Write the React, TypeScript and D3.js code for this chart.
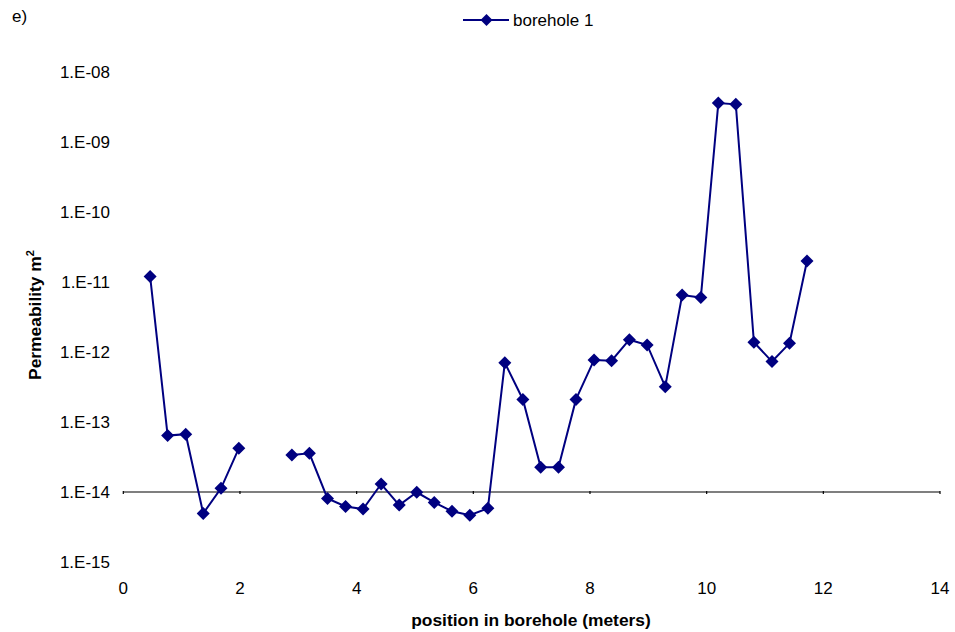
import React from "react";
import * as d3 from "d3";

const positions: number[] = [
  0.46, 0.76, 1.07, 1.37, 1.675, 1.98, 2.28, 2.58, 2.89, 3.19, 3.5, 3.81, 4.11, 4.42,
  4.73, 5.03, 5.33, 5.635, 5.94, 6.25, 6.54, 6.85, 7.155, 7.46, 7.76, 8.07, 8.37,
  8.675, 8.98, 9.29, 9.58, 9.9, 10.2, 10.5, 10.81, 11.12, 11.42, 11.72,
];
const permeability: (number | null)[] = [
  1.2e-11, 6.4e-14, 6.7e-14, 4.95e-15, 1.13e-14, 4.2e-14, null, null, 3.38e-14, 3.57e-14,
  8.1e-15, 6.2e-15, 5.7e-15, 1.3e-14, 6.5e-15, 9.9e-15, 7.1e-15, 5.3e-15, 4.65e-15,
  5.85e-15, 7.0e-13, 2.1e-13, 2.25e-14, 2.25e-14, 2.1e-13, 7.7e-13, 7.5e-13, 1.5e-12,
  1.26e-12, 3.2e-13, 6.5e-12, 6.0e-12, 3.6e-9, 3.45e-9, 1.38e-12, 7.3e-13, 1.33e-12, 2.0e-11,
];
const xTicks: number[] = [0, 2, 4, 6, 8, 10, 12, 14];
const yTicks: number[] = [1e-8, 1e-9, 1e-10, 1e-11, 1e-12, 1e-13, 1e-14, 1e-15];
const yTickLabels: string[] = ["1.E-08", "1.E-09", "1.E-10", "1.E-11", "1.E-12", "1.E-13", "1.E-14", "1.E-15"];
const seriesName = "borehole 1";

const W = 955;
const H = 632;
const NAVY = "#000080";
const FONT = "'Liberation Sans', Arial, sans-serif";

function diamond(cx: number, cy: number, r: number) {
  return `M${cx},${cy - r}L${cx + r},${cy}L${cx},${cy + r}L${cx - r},${cy}Z`;
}

export default function App() {
  const x = d3.scaleLinear().domain([0, 14]).range([123.3, 940]);
  const y = d3.scaleLog().domain([1e-15, 1e-8]).range([562, 72]);
  const data = positions.map((p, i) => ({ p, v: permeability[i] }));
  const line = d3
    .line<{ p: number; v: number | null }>()
    .defined((d) => d.v !== null)
    .x((d) => x(d.p))
    .y((d) => y(d.v as number));
  const axisY = y(1e-14);

  return (
    <svg
      width={W}
      height={H}
      style={{ position: "absolute", left: 0, top: 0, background: "#fff" }}
      fontFamily={FONT}
    >
      <rect width={W} height={H} fill="#fff" />
      <text x={12} y={22} fontSize={17} fill="#000">e)</text>

      {/* legend */}
      <line x1={463} x2={509} y1={20} y2={20} stroke={NAVY} strokeWidth={2} />
      <path d={diamond(486.5, 20, 6)} fill={NAVY} />
      <text x={513} y={26} fontSize={17} fill="#000">{seriesName}</text>

      {/* x axis line crossing at 1e-14 */}
      <line x1={x(0)} x2={x(14)} y1={axisY} y2={axisY} stroke="#000" strokeWidth={1.2} />
      {xTicks.map((t) => (
        <g key={t}>
          <line x1={x(t)} x2={x(t)} y1={axisY - 1} y2={axisY + 2} stroke="#000" strokeWidth={1.2} />
          <text x={x(t)} y={594} fontSize={17} textAnchor="middle" fill="#000">
            {t}
          </text>
        </g>
      ))}

      {yTicks.map((t, i) => (
        <text key={t} x={110} y={y(t) + 6} fontSize={17} textAnchor="end" fill="#000">
          {yTickLabels[i]}
        </text>
      ))}

      {/* axis titles */}
      <text x={531} y={626} fontSize={17.4} fontWeight="bold" textAnchor="middle" fill="#000">
        position in borehole (meters)
      </text>
      <text
        transform="translate(41,315) rotate(-90)"
        fontSize={17.4}
        fontWeight="bold"
        textAnchor="middle"
        fill="#000"
      >
        Permeability m<tspan fontSize={11} dy={-7}>2</tspan>
      </text>

      {/* series */}
      <path d={line(data) || ""} fill="none" stroke={NAVY} strokeWidth={2} />
      {data
        .filter((d) => d.v !== null)
        .map((d, i) => (
          <path key={i} d={diamond(x(d.p), y(d.v as number), 6.5)} fill={NAVY} />
        ))}
    </svg>
  );
}
